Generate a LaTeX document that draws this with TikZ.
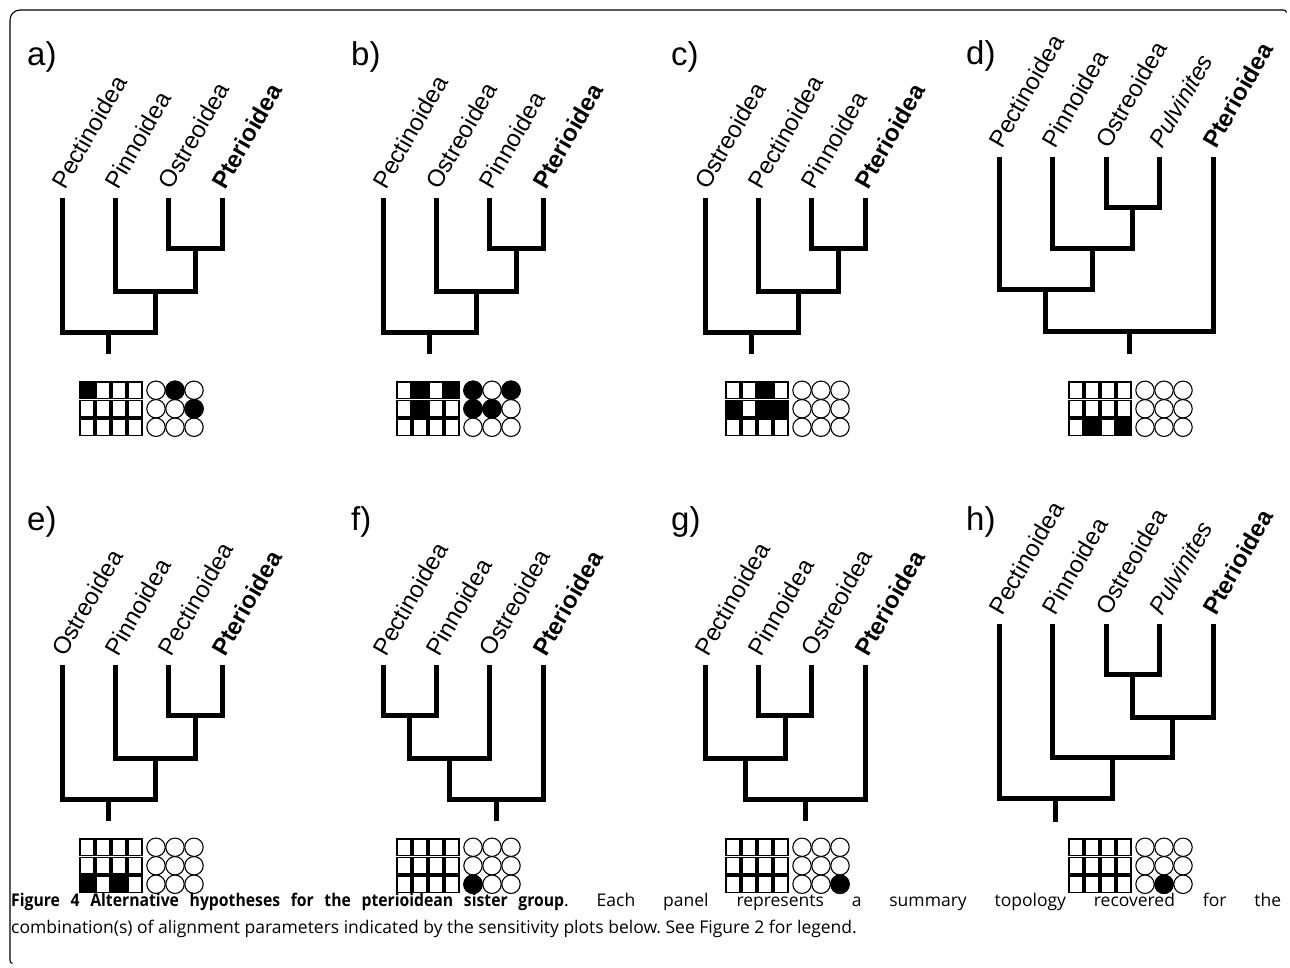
\documentclass[tikz,border=0pt]{standalone}
\usepackage{fontspec}
\setmainfont{Liberation Sans}
\newfontfamily\capfont{Open Sans}[BoldFeatures={FakeStretch=0.9}]
\frenchspacing
\tikzset{
  branch/.style={line width=5pt, line join=miter, line cap=butt},
  taxon/.style={xshift=3pt, yshift=7pt, rotate=60, anchor=base west, inner sep=0pt, font=\fontsize{24}{28}\selectfont},
  plabel/.style={anchor=base west, inner sep=0pt, font=\fontsize{33}{36}\selectfont},
  cellsq/.style={draw=black, line width=1.1pt, fill=white},
  cellci/.style={draw=black, line width=1.1pt, fill=white},
  frame/.style={line width=1.1pt, draw=black}
}
\newcommand{\sensgrid}{%
  \foreach \r in {0,1,2}{%
    \foreach \c in {0,1,2,3}{\filldraw[cellsq] (\c*16,\r*18.5) rectangle ++(14,16.5);}
    \foreach \c in {0,1,2}{\filldraw[cellci] (76+\c*19,\r*18.5+8.25) circle[radius=9.2];}
  }}
\newcommand{\bsq}[2]{\filldraw[cellsq, fill=black] (#2*16,#1*18.5) rectangle ++(14,16.5);}
\newcommand{\bci}[2]{\filldraw[cellci, fill=black] (76+#2*19,#1*18.5+8.25) circle[radius=9.2];}
\begin{document}
\begin{tikzpicture}[x=1pt, y=-1pt]
\useasboundingbox (0,0) rectangle (1290,967);
% frame
\coordinate (fb) at (10,960);
\coordinate (fc) at (10,10);
\coordinate (fr) at (1283,10);
\draw[frame, rounded corners=10pt] (fb) -- (fc) -- (fr);
\draw[frame] (fr) .. controls (1285,10) and (1286,10.5) .. (1286.5,12.5);
\draw[frame] (fb) .. controls (10,962) and (10.5,963) .. (12.5,963.5);

% ---------- panel a ----------
\begin{scope}[shift={(0,0)}]
\node[plabel] (la) at (27,65) {a)};
\coordinate (a1) at (62,198);
\coordinate (a2) at (115.3,198);
\coordinate (a3) at (168.7,198);
\coordinate (a4) at (222,198);
\coordinate (aj1) at (195.3,248);
\coordinate (aj2) at (155.3,291);
\coordinate (aj3) at (108.7,332);
\coordinate (ar) at (108.7,354);
\node[taxon] (at1) at (a1) {Pectinoidea};
\node[taxon] (at2) at (a2) {Pinnoidea};
\node[taxon] (at3) at (a3) {Ostreoidea};
\node[taxon] (at4) at (a4) {\bfseries Pterioidea};
\draw[branch] (a3) |- (aj1) -| (a4);
\draw[branch] (a2) |- (aj2) -| (aj1);
\draw[branch] (a1) |- (aj3) -| (aj2);
\draw[branch] (aj3) -- (ar);
\end{scope}
\begin{scope}[shift={(80,382)}]
\sensgrid \bsq{0}{0} \bci{0}{1} \bci{1}{2}
\end{scope}

% ---------- panel b ----------
\begin{scope}[shift={(321,0)}]
\node[plabel] (lb) at (30,65) {b)};
\coordinate (b1) at (62,198);
\coordinate (b2) at (115.3,198);
\coordinate (b3) at (168.7,198);
\coordinate (b4) at (222,198);
\coordinate (bj1) at (195.3,248);
\coordinate (bj2) at (155.3,291);
\coordinate (bj3) at (108.7,332);
\coordinate (br) at (108.7,354);
\node[taxon] (bt1) at (b1) {Pectinoidea};
\node[taxon] (bt2) at (b2) {Ostreoidea};
\node[taxon] (bt3) at (b3) {Pinnoidea};
\node[taxon] (bt4) at (b4) {\bfseries Pterioidea};
\draw[branch] (b3) |- (bj1) -| (b4);
\draw[branch] (b2) |- (bj2) -| (bj1);
\draw[branch] (b1) |- (bj3) -| (bj2);
\draw[branch] (bj3) -- (br);
\end{scope}
\begin{scope}[shift={(397,382)}]
\sensgrid \bsq{0}{1} \bsq{0}{3} \bsq{1}{1} \bci{0}{0} \bci{0}{2} \bci{1}{0} \bci{1}{1}
\end{scope}

% ---------- panel c ----------
\begin{scope}[shift={(643,0)}]
\node[plabel] (lc) at (28,65) {c)};
\coordinate (c1) at (62,198);
\coordinate (c2) at (115.3,198);
\coordinate (c3) at (168.7,198);
\coordinate (c4) at (222,198);
\coordinate (cj1) at (195.3,248);
\coordinate (cj2) at (155.3,291);
\coordinate (cj3) at (108.7,332);
\coordinate (cr) at (108.7,354);
\node[taxon] (ct1) at (c1) {Ostreoidea};
\node[taxon] (ct2) at (c2) {Pectinoidea};
\node[taxon] (ct3) at (c3) {Pinnoidea};
\node[taxon] (ct4) at (c4) {\bfseries Pterioidea};
\draw[branch] (c3) |- (cj1) -| (c4);
\draw[branch] (c2) |- (cj2) -| (cj1);
\draw[branch] (c1) |- (cj3) -| (cj2);
\draw[branch] (cj3) -- (cr);
\end{scope}
\begin{scope}[shift={(726,382)}]
\sensgrid \bsq{0}{2} \bsq{1}{0} \bsq{1}{2} \bsq{1}{3}
\end{scope}

% ---------- panel d ----------
\begin{scope}[shift={(960,0)}]
\node[plabel] (ld) at (6,64) {d)};
\coordinate (d1) at (39,157);
\coordinate (d2) at (92.5,157);
\coordinate (d3) at (146,157);
\coordinate (d4) at (199.5,157);
\coordinate (d5) at (253,157);
\coordinate (dj1) at (172.75,207);
\coordinate (dj2) at (132.6,248);
\coordinate (dj3) at (85.8,289);
\coordinate (dj4) at (169.4,331);
\coordinate (dr) at (169.4,354);
\node[taxon] (dt1) at (d1) {Pectinoidea};
\node[taxon] (dt2) at (d2) {Pinnoidea};
\node[taxon] (dt3) at (d3) {Ostreoidea};
\node[taxon] (dt4) at (d4) {\itshape Pulvinites};
\node[taxon] (dt5) at (d5) {\bfseries Pterioidea};
\draw[branch] (d3) |- (dj1) -| (d4);
\draw[branch] (d2) |- (dj2) -| (dj1);
\draw[branch] (d1) |- (dj3) -| (dj2);
\draw[branch] (dj3) |- (dj4) -| (d5);
\draw[branch] (dj4) -- (dr);
\end{scope}
\begin{scope}[shift={(1069,382)}]
\sensgrid \bsq{2}{1} \bsq{2}{3}
\end{scope}

% ---------- panel e ----------
\begin{scope}[shift={(0,467)}]
\node[plabel] (le) at (27,63) {e)};
\coordinate (e1) at (62,198);
\coordinate (e2) at (115.3,198);
\coordinate (e3) at (168.7,198);
\coordinate (e4) at (222,198);
\coordinate (ej1) at (195.3,248);
\coordinate (ej2) at (155.3,291);
\coordinate (ej3) at (108.7,332);
\coordinate (er) at (108.7,354);
\node[taxon] (et1) at (e1) {Ostreoidea};
\node[taxon] (et2) at (e2) {Pinnoidea};
\node[taxon] (et3) at (e3) {Pectinoidea};
\node[taxon] (et4) at (e4) {\bfseries Pterioidea};
\draw[branch] (e3) |- (ej1) -| (e4);
\draw[branch] (e2) |- (ej2) -| (ej1);
\draw[branch] (e1) |- (ej3) -| (ej2);
\draw[branch] (ej3) -- (er);
\end{scope}
\begin{scope}[shift={(80,839)}]
\sensgrid \bsq{2}{0} \bsq{2}{2}
\end{scope}

% ---------- panel f ----------
\begin{scope}[shift={(321,467)}]
\node[plabel] (lf) at (30,63) {f)};
\coordinate (f1) at (62,198);
\coordinate (f2) at (115.3,198);
\coordinate (f3) at (168.7,198);
\coordinate (f4) at (222,198);
\coordinate (fj1) at (88.7,248);
\coordinate (fj2) at (128.7,291);
\coordinate (fj3) at (175.3,332);
\coordinate (fr) at (175.3,354);
\node[taxon] (ft1) at (f1) {Pectinoidea};
\node[taxon] (ft2) at (f2) {Pinnoidea};
\node[taxon] (ft3) at (f3) {Ostreoidea};
\node[taxon] (ft4) at (f4) {\bfseries Pterioidea};
\draw[branch] (f1) |- (fj1) -| (f2);
\draw[branch] (fj1) |- (fj2) -| (f3);
\draw[branch] (fj2) |- (fj3) -| (f4);
\draw[branch] (fj3) -- (fr);
\end{scope}
\begin{scope}[shift={(397,839)}]
\sensgrid \bci{2}{0}
\end{scope}

% ---------- panel g ----------
\begin{scope}[shift={(643,467)}]
\node[plabel] (lg) at (28,63) {g)};
\coordinate (g1) at (62,198);
\coordinate (g2) at (115.3,198);
\coordinate (g3) at (168.7,198);
\coordinate (g4) at (222,198);
\coordinate (gj1) at (142,248);
\coordinate (gj2) at (102,291);
\coordinate (gj3) at (162,332);
\coordinate (gr) at (162,354);
\node[taxon] (gt1) at (g1) {Pectinoidea};
\node[taxon] (gt2) at (g2) {Pinnoidea};
\node[taxon] (gt3) at (g3) {Ostreoidea};
\node[taxon] (gt4) at (g4) {\bfseries Pterioidea};
\draw[branch] (g2) |- (gj1) -| (g3);
\draw[branch] (g1) |- (gj2) -| (gj1);
\draw[branch] (gj2) |- (gj3) -| (g4);
\draw[branch] (gj3) -- (gr);
\end{scope}
\begin{scope}[shift={(726,839)}]
\sensgrid \bci{2}{2}
\end{scope}

% ---------- panel h ----------
\begin{scope}[shift={(960,467)}]
\node[plabel] (lh) at (6,63) {h)};
\coordinate (h1) at (39,157);
\coordinate (h2) at (92.5,157);
\coordinate (h3) at (146,157);
\coordinate (h4) at (199.5,157);
\coordinate (h5) at (253,157);
\coordinate (hj1) at (172.75,207);
\coordinate (hj2) at (212.9,250);
\coordinate (hj3) at (152.7,290);
\coordinate (hj4) at (95.85,331);
\coordinate (hr) at (95.85,355);
\node[taxon] (ht1) at (h1) {Pectinoidea};
\node[taxon] (ht2) at (h2) {Pinnoidea};
\node[taxon] (ht3) at (h3) {Ostreoidea};
\node[taxon] (ht4) at (h4) {\itshape Pulvinites};
\node[taxon] (ht5) at (h5) {\bfseries Pterioidea};
\draw[branch] (h3) |- (hj1) -| (h4);
\draw[branch] (hj1) |- (hj2) -| (h5);
\draw[branch] (h2) |- (hj3) -| (hj2);
\draw[branch] (h1) |- (hj4) -| (hj3);
\draw[branch] (hj4) -- (hr);
\end{scope}
\begin{scope}[shift={(1069,839)}]
\sensgrid \bci{2}{1}
\end{scope}

% ---------- caption ----------
\node[anchor=north west, inner sep=0pt, text width=1270pt, align=justify,
      font=\capfont\fontsize{17.5}{27}\selectfont\frenchspacing] (cap) at (11,893)
 {\makebox[553pt][s]{\bfseries Figure 4 Alternative hypotheses for the pterioidean sister group}. Each panel represents a summary topology recovered for the\linebreak combination(s) of alignment parameters indicated by the sensitivity plots below. See Figure 2 for legend.};
\end{tikzpicture}
\end{document}
